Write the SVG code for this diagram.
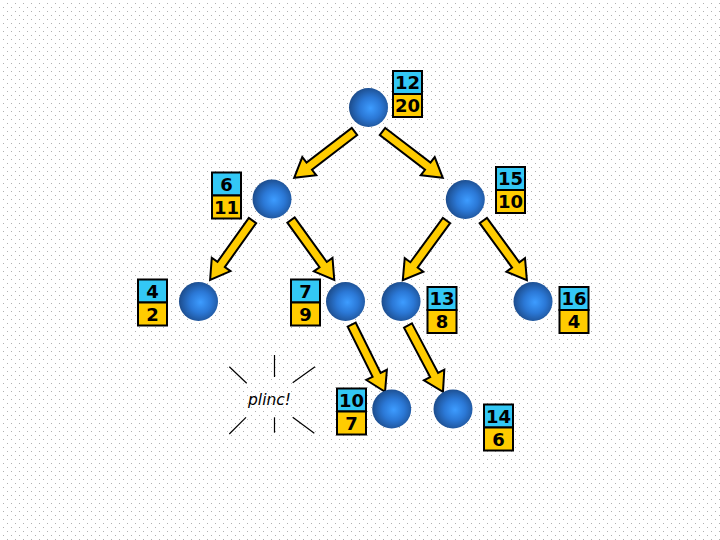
<svg xmlns="http://www.w3.org/2000/svg" width="720" height="540" viewBox="0 0 720 540">
<defs>
<pattern id="dots" width="8" height="8" patternUnits="userSpaceOnUse">
<rect x="7" y="3" width="1" height="1" fill="#b0b0b0"/>
<rect x="3" y="7" width="1" height="1" fill="#b0b0b0"/>
</pattern>
<radialGradient id="ball" cx="55%" cy="52%" r="55%">
<stop offset="0" stop-color="#3d9cff"/>
<stop offset="0.5" stop-color="#2b78d6"/>
<stop offset="1" stop-color="#1c4c8c"/>
</radialGradient>
</defs>
<style>
.ball{fill:url(#ball)}
.top{fill:#33c8f5;stroke:#000;stroke-width:2}
.bot{fill:#ffcc00;stroke:#000;stroke-width:2}
.num{font-family:"DejaVu Sans",Verdana,sans-serif;font-weight:bold;font-size:18px;fill:#000;text-anchor:middle}
.arr{fill:#ffcc00;stroke:#000;stroke-width:2;stroke-linejoin:miter}
.burst{stroke:#000;stroke-width:1.2;fill:none}
.plinc{font-family:"DejaVu Sans",Verdana,sans-serif;font-style:italic;font-size:15.5px;fill:#000;text-anchor:middle}
</style>
<rect width="720" height="540" fill="#fff"/>
<rect width="720" height="540" fill="url(#dots)"/>

<g id="connectors">
<path class="arr" transform="translate(354.5,131.5) rotate(142.5)" d="M0,-4.5H57V-11.5L76,0L57,11.5V4.5H0Z"/>
<path class="arr" transform="translate(382.5,131.5) rotate(37.5)" d="M0,-4.5H57V-11.5L76,0L57,11.5V4.5H0Z"/>
<path class="arr" transform="translate(252.5,220.5) rotate(125.5)" d="M0,-4.5H54V-11.5L73,0L54,11.5V4.5H0Z"/>
<path class="arr" transform="translate(291,220) rotate(54.2)" d="M0,-4.5H55V-11.5L74,0L55,11.5V4.5H0Z"/>
<path class="arr" transform="translate(446.5,220.5) rotate(126.2)" d="M0,-4.5H55V-11.5L74,0L55,11.5V4.5H0Z"/>
<path class="arr" transform="translate(483.3,220.5) rotate(53.9)" d="M0,-4.5H55V-11.5L74,0L55,11.5V4.5H0Z"/>
<path class="arr" transform="translate(351.7,324.7) rotate(63.6)" d="M0,-4.5H56V-11.5L75,0L56,11.5V4.5H0Z"/>
<path class="arr" transform="translate(408,325.5) rotate(62.2)" d="M0,-4.5H56V-11.5L75,0L56,11.5V4.5H0Z"/>
</g>

<g id="n12">
<circle class="ball" cx="368.5" cy="107.5" r="19.5"/>
<rect class="top" x="393" y="71" width="29" height="23"/>
<rect class="bot" x="393" y="94" width="29" height="23"/>
<text class="num" x="407.5" y="89">12</text>
<text class="num" x="407.5" y="112">20</text>
</g>
<g id="n6">
<circle class="ball" cx="272" cy="199" r="19.5"/>
<rect class="top" x="212" y="172.5" width="29" height="23"/>
<rect class="bot" x="212" y="195.5" width="29" height="23"/>
<text class="num" x="226.5" y="190.5">6</text>
<text class="num" x="226.5" y="213.5">11</text>
</g>
<g id="n15">
<circle class="ball" cx="465.3" cy="199.5" r="19.5"/>
<rect class="top" x="496" y="167" width="29" height="23"/>
<rect class="bot" x="496" y="190" width="29" height="23"/>
<text class="num" x="510.5" y="185">15</text>
<text class="num" x="510.5" y="208">10</text>
</g>
<g id="n4">
<circle class="ball" cx="198.5" cy="301.5" r="19.5"/>
<rect class="top" x="138" y="279.5" width="29" height="23"/>
<rect class="bot" x="138" y="302.5" width="29" height="23"/>
<text class="num" x="152.5" y="297.5">4</text>
<text class="num" x="152.5" y="320.5">2</text>
</g>
<g id="n7">
<circle class="ball" cx="345.5" cy="301.5" r="19.5"/>
<rect class="top" x="291" y="279.5" width="29" height="23"/>
<rect class="bot" x="291" y="302.5" width="29" height="23"/>
<text class="num" x="305.5" y="297.5">7</text>
<text class="num" x="305.5" y="320.5">9</text>
</g>
<g id="n13">
<circle class="ball" cx="401" cy="301.5" r="19.5"/>
<rect class="top" x="427.5" y="287" width="29" height="23"/>
<rect class="bot" x="427.5" y="310" width="29" height="23"/>
<text class="num" x="442" y="305">13</text>
<text class="num" x="442" y="328">8</text>
</g>
<g id="n16">
<circle class="ball" cx="533" cy="301.5" r="19.5"/>
<rect class="top" x="559.5" y="287" width="29" height="23"/>
<rect class="bot" x="559.5" y="310" width="29" height="23"/>
<text class="num" x="574" y="305">16</text>
<text class="num" x="574" y="328">4</text>
</g>
<g id="n10">
<circle class="ball" cx="391.7" cy="409" r="19.5"/>
<rect class="top" x="337" y="388.5" width="29" height="23"/>
<rect class="bot" x="337" y="411.5" width="29" height="23"/>
<text class="num" x="351.5" y="406.5">10</text>
<text class="num" x="351.5" y="429.5">7</text>
</g>
<g id="n14">
<circle class="ball" cx="453" cy="409" r="19.5"/>
<rect class="top" x="484" y="404.5" width="29" height="23"/>
<rect class="bot" x="484" y="427.5" width="29" height="23"/>
<text class="num" x="498.5" y="422.5">14</text>
<text class="num" x="498.5" y="445.5">6</text>
</g>

<g id="plinc">
<line class="burst" x1="274.5" y1="355" x2="274.5" y2="377"/>
<line class="burst" x1="229.3" y1="366.7" x2="246.7" y2="383.3"/>
<line class="burst" x1="315" y1="366.7" x2="292.7" y2="382.7"/>
<line class="burst" x1="246" y1="417.3" x2="229.3" y2="434"/>
<line class="burst" x1="274.5" y1="417.3" x2="274.5" y2="432.7"/>
<line class="burst" x1="292.7" y1="417.3" x2="314.3" y2="433.3"/>
<text class="plinc" x="269.5" y="405">plinc!</text>
</g>
</svg>
